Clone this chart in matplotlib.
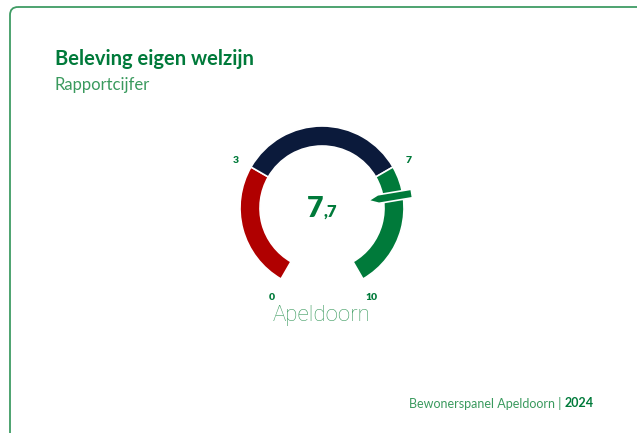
import numpy as np
import matplotlib
matplotlib.use("Agg")
import matplotlib.pyplot as plt
from matplotlib.patches import Wedge, Polygon, FancyBboxPatch

plt.rcParams['font.family'] = ['Lato', 'DejaVu Sans']

# data
title = "Beleving eigen welzijn"
subtitle = "Rapportcijfer"
location = "Apeldoorn"
score = 7.7
band_edges = [0, 3, 7, 10]
band_colors = ['#b00000', '#0b1a3b', '#007a3a']
tick_values = [0, 3, 7, 10]
source = "Bewonerspanel Apeldoorn"
year = "2024"

green = '#007a3a'
light_green = '#3a9a5e'

W, H = 637, 433
fig = plt.figure(figsize=(W / 100, H / 100), dpi=100)
ax = fig.add_axes([0, 0, 1, 1])
ax.set_xlim(0, W)
ax.set_ylim(H, 0)
ax.axis('off')

# card frame
frame = FancyBboxPatch((10, 7), W + 20, H + 20, boxstyle="round,pad=0,rounding_size=8",
                       fill=False, edgecolor='#3f9c64', linewidth=1.3, zorder=0)
ax.add_patch(frame)

# gauge geometry (y axis points down, so angles flip)
cx, cy = 322, 208
r_out, width = 82, 20
start_ang, span = 240, 300


def val2ang(v):
    return start_ang - span * v / band_edges[-1]


for lo, hi, col in zip(band_edges[:-1], band_edges[1:], band_colors):
    a1, a2 = val2ang(hi), val2ang(lo)
    w = Wedge((cx, cy), r_out, -a2, -a1, width=width, facecolor=col,
              edgecolor='white', linewidth=1.2, zorder=2)
    ax.add_patch(w)

for v in tick_values:
    a = np.radians(val2ang(v))
    ax.text(cx + 100 * np.cos(a), cy - 100 * np.sin(a) + 2.5, str(v), ha='center', va='center',
            fontsize=7.5, fontweight='heavy', color=green)

# needle
a = np.radians(val2ang(score))
shape = np.array([[47, 0], [57, 4.3], [91, 4.6], [91, -4.0], [57, -4.3]])
d = np.array([np.cos(a), -np.sin(a)])
n = np.array([-np.sin(a), -np.cos(a)])
pts = [(cx + r * d[0] + t * n[0], cy + r * d[1] + t * n[1]) for r, t in shape]
ax.add_patch(Polygon(pts, closed=True, facecolor=green, edgecolor='white',
                     linewidth=1.2, zorder=3))

# value
whole, frac = f"{score:.1f}".split('.')
ax.text(323, 217, whole, ha='right', va='baseline', fontsize=20.5,
        fontweight='heavy', color=green)
ax.text(323, 217, ',' + frac, ha='left', va='baseline', fontsize=12,
        fontweight='heavy', color=green)

ax.text(cx, 316, location, ha='center', va='center', fontsize=16,
        family=['Roboto', 'DejaVu Sans'], fontweight='light', color=light_green)

# titles
ax.text(55, 59, title, ha='left', va='center', fontsize=14.5, fontweight='bold', color=green)
ax.text(55, 85, subtitle, ha='left', va='center', fontsize=12, color=light_green)

# footer
t2 = ax.text(594, 403, year, ha='right', va='center', fontsize=9,
             fontweight='bold', color=green)
ax.annotate(source + " | ", xy=(0, 0.5), xycoords=t2, ha='right', va='center',
            fontsize=9, color=light_green)

fig.savefig("out.png", dpi=100)
